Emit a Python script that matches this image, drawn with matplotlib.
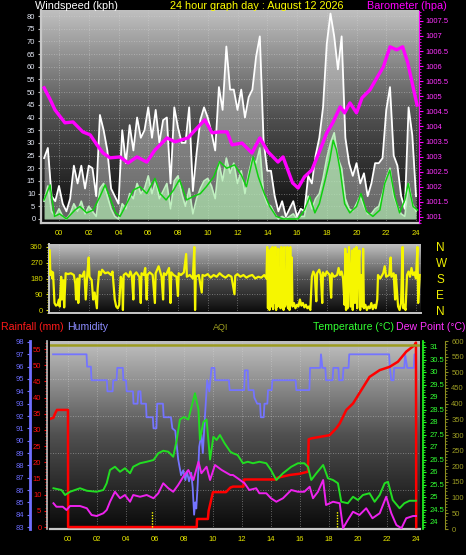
import numpy as np
import matplotlib.pyplot as plt
from matplotlib.colors import LinearSegmentedColormap
from matplotlib.ticker import MultipleLocator

plt.rcParams['font.family'] = ['Liberation Sans', 'DejaVu Sans']

# ---------------- data ----------------
hour_ticks = list(range(0, 25, 2))
hour_labels = ['%02d' % h for h in hour_ticks]

# wind samples every 15 minutes, from 23:00 the day before
wind_t = np.arange(-1.0, 24.01, 0.25)
gust = [24, 28, 9, 7,
        13, 6, 3, 8,
        21, 14, 21, 12,
        21, 20, 9, 41,
        35, 27, 12, 9,
        6, 35, 22, 37,
        27, 40, 32, 35,
        44, 32, 43, 30,
        39, 40, 14, 44,
        36, 30, 30, 44,
        11, 26, 39, 44,
        40, 34, 27, 52,
        43, 68, 51, 51,
        43, 51, 40, 48,
        51, 64, 72, 31,
        19, 19, 9, 3,
        7, 1, 4, 7,
        1, 4, 3, 17,
        14, 25, 32, 44,
        69, 81, 72, 59,
        72, 32, 22, 17,
        22, 14, 18, 9,
        14, 22, 22, 24,
        43, 52, 25, 21,
        9, 4, 44, 33,
        9]
speed = [7, 13, 3, 1,
         4, 1, 0, 2,
         6, 3, 7, 2,
         5, 3, 1, 12,
         14, 9, 4, 1,
         0, 6, 4, 10,
         8, 14, 10, 12,
         17, 10, 15, 8,
         11, 14, 4, 15,
         17, 10, 5, 12,
         2, 8, 12, 15,
         16, 13, 8, 22,
         15, 24, 18, 22,
         14, 19, 10, 18,
         24, 22, 28, 10,
         6, 5, 2, 0,
         1, 0, 1, 2,
         0, 1, 1, 9,
         4, 8, 10, 16,
         24, 30, 34, 24,
         20, 8, 4, 3,
         6, 9, 5, 2,
         2, 4, 5, 10,
         16, 20, 9, 5,
         2, 1, 14, 6,
         3]

avg_h = [-1.0, -0.6, -0.3, 0.04, 0.5, 1.07, 1.4, 1.86, 2.3, 2.75, 3.1, 3.4, 3.8, 4.1, 4.55,
         5.0, 5.45, 5.9, 6.45, 6.8, 7.2, 7.7, 8.1, 8.58, 9.0, 9.5, 9.9, 10.4, 10.8, 11.27,
         11.8, 12.26, 12.6, 13.05, 13.4, 13.8, 14.17, 14.6, 15.06, 15.5, 16.07, 16.5, 16.86,
         17.2, 17.5, 17.9, 18.2, 18.43, 18.65, 18.9, 19.2, 19.55, 20.0, 20.3, 20.67, 21.1,
         21.57, 21.9, 22.24, 22.57, 22.9, 23.25, 23.47, 23.8, 24.1]
avg_v = [7.5, 13.4, 1, 2, 0, 3.5, 4.9, 2.4, 3.5, 8.8, 13.4, 8.8, 2.4, 1, 6,
         11.4, 12.7, 10, 16, 10, 7.5, 11.4, 15.5, 7.5, 8.8, 10, 12.7, 16.6, 22.6, 20,
         21.3, 17.3, 12.7, 24.5, 16.6, 10, 4.9, 1, 0, 0, 0, 3.5, 8.8,
         2.4, 6, 15.5, 23.2, 31, 27.2, 19.3, 6, 2.4, 4.9, 10, 3, 1,
         3.5, 14, 19.3, 8.8, 2.4, 7.5, 14, 4.9, 3.5]

baro_h = [-1.0, -0.6, -0.27, 0.4, 0.94, 1.6, 2.1, 2.55, 2.96, 3.43, 4.1, 4.64, 5.24, 5.9, 6.45,
          7.26, 7.8, 8.67, 9.28, 9.8, 10.29, 10.82, 11.3, 11.63, 12.3, 12.97, 13.5, 14.05, 14.72,
          15.06, 15.7, 16.07, 16.5, 17.0, 17.55, 18.0, 18.4, 18.9, 19.2, 19.56, 20.0, 20.37,
          20.9, 21.4, 21.8, 22.25, 22.7, 23.1, 23.45, 23.8, 24.07]
baro_v = [1005.28, 1004.9, 1004.55, 1004.12, 1004.15, 1003.82, 1003.72, 1003.39, 1003.12, 1002.96,
          1002.99, 1002.79, 1002.99, 1002.82, 1003.22, 1003.62, 1003.49, 1003.62, 1003.95, 1004.22,
          1003.79, 1003.82, 1003.82, 1003.39, 1003.45, 1003.12, 1003.62, 1003.16, 1002.82, 1002.99,
          1002.13, 1001.96, 1002.33, 1002.56, 1003.22, 1003.79, 1004.12, 1004.65, 1004.45, 1004.78,
          1004.45, 1004.95, 1005.21, 1005.64, 1005.97, 1006.64, 1006.54, 1006.64, 1006.1, 1005.31,
          1004.71]

dir_h = [-0.62, -0.58, -0.5, -0.45, -0.4, -0.3, -0.2, -0.1, 0.0, 0.05, 0.15, 0.2, 0.3, 0.35, 0.45,
         0.6, 0.8, 1.0, 1.1, 1.15, 1.25, 1.3, 1.4, 1.55, 1.7, 1.8, 1.9, 2.0, 2.05, 2.2, 2.3, 2.4,
         2.5, 2.55, 2.6, 2.7, 2.8, 2.9, 3.1, 3.3, 3.5, 3.6, 3.75, 3.85, 3.95, 4.05, 4.15, 4.25,
         4.3, 4.35, 4.5, 4.7, 4.8, 4.9, 5.0, 5.05, 5.2, 5.4, 5.5, 5.55, 5.7, 5.8, 5.9, 5.95, 6.1,
         6.3, 6.45, 6.5, 6.7, 6.9, 7.0, 7.05, 7.2, 7.4, 7.5, 7.55, 7.7, 7.9, 8.0, 8.05, 8.2, 8.4,
         8.55, 8.6, 8.8, 9.0, 9.1, 9.15, 9.2, 9.4, 9.6, 9.65, 9.8, 10.0, 10.2, 10.4, 10.6, 10.8,
         11.0, 11.2, 11.4, 11.6, 11.8, 11.85, 12.0, 12.2, 12.4, 12.6, 12.8, 13.0, 13.2, 13.4,
         13.6, 13.8, 13.95, 14.0, 14.05, 14.1, 14.15, 14.2, 14.25, 14.3, 14.35, 14.4, 14.45,
         14.5, 14.55, 14.6, 14.65, 14.7, 14.75, 14.8, 14.85, 14.9, 14.95, 15.0, 15.05, 15.1,
         15.15, 15.2, 15.3, 15.35, 15.4, 15.45, 15.5, 15.55, 15.6, 15.65, 15.7, 15.8, 15.9,
         16.0, 16.1, 16.2, 16.3, 16.4, 16.5, 16.6, 16.7, 16.8, 16.9, 17.0, 17.1, 17.2, 17.3,
         17.35, 17.5, 17.6, 17.7, 17.75, 17.9, 18.0, 18.2, 18.3, 18.35, 18.5, 18.7, 18.8, 18.9,
         19.0, 19.1, 19.2, 19.25, 19.3, 19.35, 19.4, 19.5, 19.55, 19.6, 19.7, 19.75, 19.8,
         19.85, 19.9, 19.95, 20.0, 20.05, 20.1, 20.2, 20.25, 20.3, 20.4, 20.45, 20.5, 20.6,
         20.7, 20.8, 20.9, 21.0, 21.1, 21.2, 21.3, 21.4, 21.45, 21.6, 21.8, 21.9, 22.0, 22.2,
         22.3, 22.35, 22.5, 22.6, 22.65, 22.8, 22.9, 23.0, 23.1, 23.15, 23.2, 23.3, 23.4, 23.5,
         23.6, 23.7, 23.8, 23.9, 24.0, 24.1, 24.15, 24.25]
dir_v = [340, 200, 220, 180, 215, 40, 25, 30, 60, 20, 190, 60, 170, 15, 210,
         205, 210, 200, 150, 60, 180, 40, 200, 190, 220, 60, 200, 300, 190, 170, 60, 100,
         40, 10, 120, 220, 200, 230, 210, 215, 200, 220, 60, 20, 10, 30, 190, 170,
         0, 200, 210, 190, 220, 195, 60, 200, 215, 190, 40, 210, 200, 240, 60, 200, 215,
         200, 40, 210, 250, 190, 60, 210, 200, 240, 40, 215, 200, 190, 80, 210, 200, 215,
         320, 190, 200, 180, 360, 0, 190, 200, 100, 200, 195, 205, 185, 200, 190, 210,
         195, 185, 200, 190, 90, 195, 205, 190, 200, 185, 195, 200, 180, 190,
         185, 200, 180, 360, 10, 340, 0, 200, 350, 20, 360, 5, 330,
         40, 360, 0, 300, 20, 350, 60, 200, 10, 360, 30, 340, 0,
         360, 20, 50, 360, 10, 350, 0, 360, 30, 300, 20, 40, 10,
         30, 20, 60, 25, 40, 15, 30, 10, 20, 0, 190, 220, 200, 50,
         210, 230, 200, 40, 215, 195, 220, 200, 70, 210, 190, 200, 240, 200,
         220, 180, 30, 350, 0, 320, 10, 360, 200, 20, 340, 0, 200,
         350, 40, 200, 360, 10, 210, 340, 0, 200, 20, 350, 10, 30,
         0, 20, 10, 40, 5, 30, 10, 60, 200, 180, 210, 250, 190, 200,
         300, 190, 210, 60, 200, 20, 0, 40, 360, 10, 30, 0, 200, 220,
         190, 240, 200, 215, 180, 360, 40, 200]

rain_h = [-1.24, -1.0, -0.9, -0.76, 0.0, 0.01, 8.88, 8.9, 9.65, 9.7, 10.0, 10.9, 11.2, 11.38, 12.1,
          12.15, 14.37, 14.4, 15.3, 16.0, 16.55, 16.6, 16.78, 18.05, 18.5, 18.74, 19.2, 19.66,
          20.23, 20.8, 21.5, 22.18, 22.76, 23.33, 23.9, 24.0, 24.02]
rain_v = [33.4, 33.8, 35.0, 36.2, 36.2, 0, 0, 2.5, 2.5, 5.0, 10.8, 10.8, 12.2, 12.5, 12.5,
          14.7, 14.7, 15.2, 16.1, 16.5, 17.1, 27.1, 27.4, 28.4, 30.5, 32.0, 36.2, 38.2,
          42.3, 46.4, 48.5, 49.5, 51.1, 54.2, 56.2, 57.0, 0]

hum_h = [-1.03, 1.28, 1.32, 1.58, 1.62, 2.68, 2.72, 3.08, 3.12, 3.35, 3.4, 3.78, 3.82, 4.0, 4.05,
         4.48, 4.52, 4.8, 4.85, 5.0, 5.05, 5.38, 5.42, 5.85, 5.9, 6.1, 6.15, 6.55, 6.6, 7.1, 7.2,
         7.4, 7.6, 7.8, 7.95, 8.1, 8.2, 8.35, 8.5, 8.6, 8.7, 8.78, 8.85, 8.95, 9.05, 9.2, 9.3,
         9.45, 9.6, 9.75, 9.9, 10.1, 10.15, 11.1, 11.15, 12.15, 12.2, 12.4, 12.45, 12.8, 12.85,
         13.05, 13.25, 13.3, 13.5, 13.55, 13.75, 13.8, 14.05, 14.1, 15.7, 15.75, 16.65, 16.7,
         17.4, 17.45, 17.55, 17.75, 17.8, 18.25, 18.3, 18.65, 18.7, 18.95, 19.0, 19.35, 19.4,
         22.15, 22.2, 22.3, 22.45, 22.5, 23.2, 23.25, 23.4, 23.85, 23.9, 24.0]
hum_v = [97.0, 97.0, 96.0, 96.0, 94.9, 94.9, 94.0, 94.0, 94.9, 94.9, 95.9, 95.9, 94.9, 94.9, 94.0,
         94.0, 93.0, 93.0, 94.0, 94.0, 93.0, 93.0, 91.9, 91.9, 91.0, 91.0, 93.0, 93.0, 91.9, 91.9,
         91.0, 90.8, 88.5, 87.2, 87.6, 86.8, 87.5, 86.7, 87.4, 86.2, 84.0, 85.0, 84.5, 86.5,
         89.5, 90.5, 89.0, 92.0, 94.9, 94.0, 95.9, 95.9, 94.9, 94.9, 94.1, 94.1, 95.7, 95.7,
         94.1, 94.1, 93.5, 93.0, 93.0, 91.9, 91.9, 93.0, 93.0, 94.1, 94.1, 94.9, 94.9, 94.1,
         94.1, 95.9, 95.9, 97.0, 95.9, 95.9, 94.9, 94.9, 95.9, 95.9, 94.9, 94.9, 95.9, 95.9,
         97.0, 97.0, 95.9, 94.9, 94.9, 95.9, 95.9, 97.0, 95.9, 95.9, 97.0, 97.0]

temp_h = [-1.0, -0.45, -0.2, 0.14, 0.83, 1.3, 1.98, 2.44, 2.67, 2.9, 3.24, 3.59, 3.93, 4.28, 4.5,
          4.97, 5.43, 5.9, 6.23, 6.57, 6.92, 7.26, 7.5, 7.72, 8.0, 8.3, 8.76, 9.0, 9.1, 9.34,
          9.56, 9.8, 10.03, 10.25, 10.48, 10.8, 11.2, 11.38, 11.7, 12.07, 12.4, 12.76, 13.2,
          13.68, 14.0, 14.37, 14.83, 15.4, 15.86, 16.3, 16.55, 16.78, 17.13, 17.6, 17.93, 18.28,
          18.62, 18.85, 19.3, 19.66, 20.0, 20.34, 20.8, 21.15, 21.5, 21.84, 22.07, 22.4, 22.87,
          23.2, 23.56, 24.0]
temp_v = [25.35, 25.28, 25.08, 25.21, 25.35, 25.25, 25.21, 25.28, 25.55, 26.08, 26.21, 26.01, 26.15,
          25.95, 26.21, 26.35, 26.41, 26.48, 26.75, 26.85, 26.81, 26.61, 27.28, 28.1, 28.2, 28.1,
          29.15, 28.5, 27.3, 28.0, 28.1, 26.5, 27.41, 27.28, 27.48, 27.15, 26.81, 26.75, 26.68,
          26.35, 26.41, 26.35, 26.41, 26.35, 26.08, 25.68, 25.95, 26.21, 26.35, 26.35, 26.21,
          25.68, 25.95, 26.28, 25.75, 25.68, 25.55, 24.81, 24.75, 25.01, 24.88, 25.08, 25.15,
          24.81, 25.08, 25.55, 25.61, 24.88, 24.55, 24.75, 24.85, 24.85]

dew_h = [-1.0, -0.8, -0.36, -0.1, 0.14, 0.83, 1.3, 1.63, 1.98, 2.44, 2.67, 2.9, 3.24, 3.59, 3.93,
         4.28, 4.5, 4.97, 5.43, 5.9, 6.23, 6.57, 6.92, 7.26, 7.6, 7.95, 8.3, 8.65, 9.0, 9.2, 9.56,
         9.8, 10.14, 10.6, 11.2, 11.38, 11.7, 12.18, 12.5, 12.98, 13.2, 13.68, 14.0, 14.37,
         14.83, 15.4, 15.86, 16.3, 16.67, 16.9, 17.24, 17.6, 17.8, 18.28, 18.74, 18.97, 19.3,
         19.66, 20.1, 20.57, 21.0, 21.5, 21.95, 22.3, 22.65, 23.0, 23.33, 23.8, 24.0]
dew_v = [24.75, 24.61, 24.61, 24.48, 24.64, 24.64, 24.55, 24.28, 24.24, 24.35, 24.48, 24.81, 25.21,
         24.95, 25.08, 24.81, 25.08, 25.01, 25.08, 24.95, 25.15, 25.55, 25.35, 25.21, 25.48,
         25.81, 26.08, 25.68, 26.41, 25.95, 26.21, 25.68, 26.28, 26.08, 25.88, 25.88, 25.75,
         25.55, 25.28, 25.35, 25.15, 25.15, 24.95, 24.81, 24.95, 25.28, 25.21, 25.21, 25.41,
         24.95, 25.21, 25.68, 24.68, 24.81, 24.75, 23.75, 24.08, 24.41, 24.28, 24.55, 24.15,
         24.35, 25.01, 24.35, 23.88, 23.75, 24.15, 24.24, 24.24]

aqi_h = [-1.24, 24.28]
aqi_v = [586, 586]
sun_marks = [5.8, 18.55]   # dotted yellow markers at the bottom of the lower panel

# ---------------- figure ----------------
W, H = 466, 555
fig = plt.figure(figsize=(W / 100, H / 100), dpi=100, facecolor='black')


def box(x0, y0, x1, y1):
    return [x0 / W, 1 - y1 / H, (x1 - x0) / W, (y1 - y0) / H]


gray = LinearSegmentedColormap.from_list('bg', ['#0a0a0a', '#505050', '#c0c0c0'])
grad = np.linspace(0, 1, 256).reshape(-1, 1)


def background(ax):
    ax.imshow(grad, extent=[0, 1, 0, 1], transform=ax.transAxes, aspect='auto',
              cmap=gray, origin='lower', zorder=0)


grid_kw = dict(color='#d8d8d8', lw=0.6, ls=(0, (1, 2)), alpha=0.55, zorder=1)
tick_font = 5.5
yellow = '#e8e800'

# ---------- panel 1: wind speed + barometer ----------
ax1 = fig.add_axes(box(41, 10, 419, 223))
ax1.set_facecolor('black')
background(ax1)
ax1.set_xlim(-1.21, 24.2)
ax1.set_ylim(-1.6, 82.4)
for h in hour_ticks:
    ax1.axvline(h, **grid_kw)
for v in range(5, 81, 5):
    ax1.axhline(v, **grid_kw)

ax1.fill_between(wind_t, gust, color='#e8e8e8', alpha=0.4, lw=0, zorder=2)
ax1.plot(wind_t, gust, color='white', lw=1.3, zorder=3)
ax1.fill_between(wind_t, speed, color='#b4ecb4', alpha=0.7, lw=0, zorder=4)
ax1.plot(wind_t, speed, color='#c0f0c0', lw=1.2, zorder=5)
ax1.plot(avg_h, avg_v, color='#10d010', lw=1.1, zorder=6)

ax1.set_xticks(hour_ticks)
ax1.set_xticklabels(hour_labels)
ax1.set_yticks(range(0, 81, 5))
ax1.tick_params(axis='x', length=0, pad=5, labelsize=tick_font, labelcolor=yellow)
ax1.tick_params(axis='y', length=2, width=0.8, color='#c0c0c0', pad=2,
                labelsize=tick_font, labelcolor='#e4e8f4')
for s in ['top', 'right']:
    ax1.spines[s].set_visible(False)
for s in ['left', 'bottom']:
    ax1.spines[s].set_color('#c8c8c8')
    ax1.spines[s].set_linewidth(1.6)

ax1b = ax1.twinx()
ax1b.set_ylim(1000.80, 1007.86)
ax1b.plot(baro_h, baro_v, color='#ff00ff', lw=2.4, zorder=7)
ax1b.set_yticks(np.arange(1001, 1007.6, 0.5))
ax1b.set_yticklabels(['%g' % v for v in np.arange(1001, 1007.6, 0.5)])
ax1b.yaxis.set_minor_locator(MultipleLocator(0.1))
ax1b.tick_params(axis='y', which='major', length=3, width=0.8, color='#ff00ff', pad=2,
                 labelsize=tick_font, labelcolor='#ff33ff')
ax1b.tick_params(axis='y', which='minor', length=1.2, width=0.6, color='#ff00ff')
for s in ['top', 'left', 'bottom']:
    ax1b.spines[s].set_visible(False)
ax1b.spines['right'].set_color('#ff00ff')
ax1b.spines['right'].set_linestyle((0, (1, 1)))
ax1b.spines['right'].set_linewidth(0.8)

fig.text(35 / W, 1 - 6 / H, 'Windspeed (kph)', color='white', fontsize=7.8, ha='left', va='center')
fig.text(257 / W, 1 - 6 / H, '24 hour graph day : August 12 2026', color='#ffff00', fontsize=7.8,
         ha='center', va='center')
fig.text(447 / W, 1 - 6 / H, 'Barometer (hpa)', color='#ff00ff', fontsize=7.8, ha='right', va='center')

# ---------- panel 2: wind direction ----------
ax2 = fig.add_axes(box(49, 244, 421, 313))
background(ax2)
ax2.set_xlim(-0.67, 24.34)
ax2.set_ylim(-17, 377)
for v in [90, 180, 270]:
    ax2.axhline(v, **grid_kw)
for h in hour_ticks:
    ax2.axvline(h, **grid_kw)
ax2.plot(dir_h, dir_v, color='#f6f600', lw=1.6, zorder=3)
ax2.set_xticks([])
ax2.set_yticks([0, 90, 180, 270, 360])
ax2.yaxis.set_minor_locator(MultipleLocator(15))
ax2.tick_params(axis='y', which='major', length=2.5, color=yellow, pad=2,
                labelsize=tick_font, labelcolor='#d8d800')
ax2.tick_params(axis='y', which='minor', length=1.5, color=yellow)
for s in ['top', 'right']:
    ax2.spines[s].set_visible(False)
for s in ['left', 'bottom']:
    ax2.spines[s].set_color('#c8c8c8')
    ax2.spines[s].set_linewidth(1.4)
ax2b = ax2.twinx()
ax2b.set_ylim(-17, 377)
ax2b.set_yticks([0, 90, 180, 270, 360])
ax2b.set_yticklabels(['N', 'E', 'S', 'W', 'N'])
ax2b.tick_params(axis='y', length=0, pad=11, labelsize=8.5, labelcolor='#f0f000')
for s in ax2b.spines.values():
    s.set_visible(False)

# ---------- panel 3: rain / humidity / temperature / dew point / AQI ----------
ax3 = fig.add_axes(box(50, 341, 420, 529))
background(ax3)
ax3.set_xlim(-1.24, 24.28)
ax3.set_ylim(82.84, 98.08)
for h in hour_ticks:
    ax3.axvline(h, **grid_kw)
for v in [86, 89, 92, 95]:
    ax3.axhline(v, **grid_kw)
ax3.plot(hum_h, hum_v, color='#7474ff', lw=1.3, zorder=3)
ax3.set_xticks(hour_ticks)
ax3.set_xticklabels(hour_labels)
ax3.tick_params(axis='x', length=0, pad=5, labelsize=tick_font, labelcolor=yellow)
ax3.set_yticks(range(83, 99))
ax3.tick_params(axis='y', length=2, color='#7070ff', pad=2, labelsize=tick_font,
                labelcolor='#6c6cff')
ax3.spines['left'].set_position(('outward', 14.4))
ax3.spines['left'].set_color('#7070ff')
ax3.spines['left'].set_linewidth(2)
ax3.spines['bottom'].set_color('#c8c8c8')
ax3.spines['bottom'].set_linewidth(1.6)
for s in ['top', 'right']:
    ax3.spines[s].set_visible(False)

axR = ax3.twinx()
axR.set_ylim(-0.6, 57.5)
axR.yaxis.tick_left()
axR.plot(rain_h, rain_v, color='#ff0000', lw=1.8, zorder=3)
axR.vlines(sun_marks, 0, 5, colors='#ffff00', linestyles=(0, (1, 1)), lw=1.0, zorder=3)
axR.set_yticks(range(0, 56, 5))
axR.yaxis.set_minor_locator(MultipleLocator(1))
axR.tick_params(axis='y', which='major', length=2.5, color='#ff0000', pad=1.5,
                labelsize=tick_font, labelcolor='#ff1010')
axR.tick_params(axis='y', which='minor', length=1.5, color='#ff0000')
axR.spines['left'].set_position(('outward', 2.2))
axR.spines['left'].set_color('#c0c0c0')
axR.spines['left'].set_linewidth(1.2)
for s in ['top', 'right', 'bottom']:
    axR.spines[s].set_visible(False)

axT = ax3.twinx()
axT.set_ylim(23.72, 31.24)
axT.plot(temp_h, temp_v, color='#22dd22', lw=1.4, zorder=4)
axT.plot(dew_h, dew_v, color='#ee22ee', lw=1.4, zorder=4)
axT.set_yticks(np.arange(24, 31.01, 0.5))
axT.set_yticklabels(['%g' % v for v in np.arange(24, 31.01, 0.5)])
axT.yaxis.set_minor_locator(MultipleLocator(0.1))
axT.tick_params(axis='y', which='major', length=2.5, color='#22ff22', pad=2,
                labelsize=tick_font, labelcolor='#33ff33')
axT.tick_params(axis='y', which='minor', length=1.2, color='#22ff22')
axT.spines['right'].set_position(('outward', 2.2))
axT.spines['right'].set_color('#22ff22')
axT.spines['right'].set_linewidth(1.2)
for s in ['top', 'left', 'bottom']:
    axT.spines[s].set_visible(False)

axA = ax3.twinx()
axA.set_ylim(0, 594)
axA.plot(aqi_h, aqi_v, color='#9c9c20', lw=1.8, zorder=2)
axA.set_yticks(range(0, 601, 50))
axA.yaxis.set_minor_locator(MultipleLocator(10))
axA.tick_params(axis='y', which='major', length=2.5, color='#8c8c20', pad=2,
                labelsize=tick_font, labelcolor='#9c9c24')
axA.tick_params(axis='y', which='minor', length=1.2, color='#8c8c20')
axA.spines['right'].set_position(('outward', 18))
axA.spines['right'].set_color('#8c8c20')
axA.spines['right'].set_linestyle((0, (1, 1)))
for s in ['top', 'left', 'bottom']:
    axA.spines[s].set_visible(False)

yh = 1 - 327 / H
fig.text(1 / W, yh, 'Rainfall (mm)', color='#ff1a1a', fontsize=7.6, ha='left', va='center')
fig.text(67 / W, yh, 'Humidity', color='#8c8cff', fontsize=7.6, ha='left', va='center')
fig.text(221 / W, yh, 'AQI', color='#a0a020', fontsize=6.5, ha='center', va='center')
fig.text(313 / W, yh, 'Temperature (°C)', color='#33ff33', fontsize=7.6, ha='left', va='center')
fig.text(465 / W, yh, 'Dew Point (°C)', color='#ff33ff', fontsize=7.6, ha='right', va='center')

fig.savefig('out.png', dpi=100, facecolor='black')
